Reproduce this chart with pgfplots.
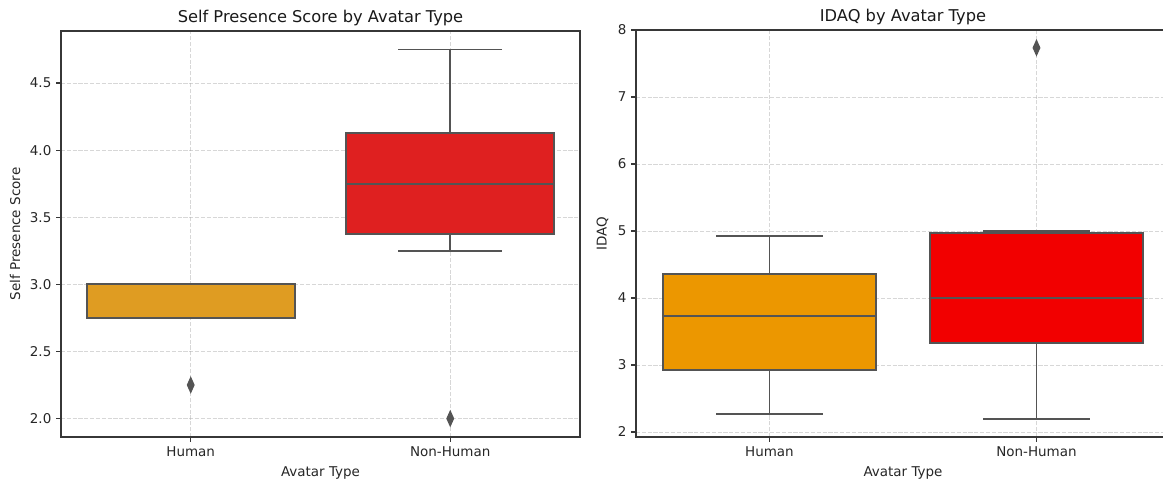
\documentclass[border=0pt]{standalone}
\usepackage{fontspec}
\setmainfont{DejaVu Sans}
\usepackage{pgfplots}
\pgfplotsset{compat=1.18}
\usepgfplotslibrary{statistics}
\definecolor{lorange}{RGB}{223,156,34}
\definecolor{lred}{RGB}{223,32,32}
\definecolor{rorange}{RGB}{236,151,0}
\definecolor{rred}{RGB}{242,0,0}
\definecolor{boxline}{RGB}{84,84,84}
\definecolor{spine}{RGB}{55,55,55}
\pgfplotsset{
  myax/.style={
    scale only axis,
    anchor=south west,
    xmin=-0.5, xmax=1.5,
    xtick={0,1}, xticklabels={Human,Non-Human},
    xtick pos=lower, ytick pos=left,
    tick align=outside,
    major tick length=3.4pt,
    tick style={spine, line width=0.8pt},
    axis line style={spine, line width=1pt},
    xmajorgrids, ymajorgrids,
    major grid style={dash pattern=on 2.9pt off 1.3pt, color=gray!70, opacity=0.45, line width=0.6pt},
    ticklabel style={font=\fontsize{9.7}{11}\selectfont, text=black!85},
    label style={font=\fontsize{9.7}{11}\selectfont, text=black!85},
    title style={font=\fontsize{11.7}{13}\selectfont, text=black!90, yshift=-6pt},
    xlabel={Avatar Type},
    boxplot/draw direction=y,
    boxplot/box extend=0.8,
    boxplot/whisker extend=0.4,
  },
  bx/.style={draw=boxline, fill=#1, line width=1.4pt, solid, mark=diamond*, mark size=3.7pt,
    mark options={fill=boxline, draw=boxline, xscale=0.75, yscale=1.25},
    boxplot/every box/.style={line width=1.4pt},
    boxplot/every whisker/.style={line width=1.4pt},
    boxplot/every median/.style={line width=1.4pt}},
}
\begin{document}
\begin{tikzpicture}
\path[use as bounding box] (0,0) rectangle (837.36pt,345.6pt);
\begin{axis}[myax,
  at={(43.9pt,30.96pt)}, width=373.7pt, height=292.3pt,
  ymin=1.8625, ymax=4.8875,
  ytick={2,2.5,3,3.5,4,4.5}, yticklabels={2.0,2.5,3.0,3.5,4.0,4.5},
  ylabel={Self Presence Score},
  title={Self Presence Score by Avatar Type}]
\addplot[bx=lorange, boxplot prepared={lower whisker=2.75, lower quartile=2.75, median=3.0, upper quartile=3.0, upper whisker=3.0, draw position=0}] table[row sep=\\, y index=0] {2.25\\};
\addplot[bx=lred, boxplot prepared={lower whisker=3.25, lower quartile=3.375, median=3.75, upper quartile=4.125, upper whisker=4.75, draw position=1}] table[row sep=\\, y index=0] {2.0\\};
\end{axis}
\begin{axis}[myax,
  at={(457.9pt,30.96pt)}, width=384.5pt, height=293pt,
  ymin=1.925, ymax=8.0,
  ytick={2,3,4,5,6,7,8}, yticklabels={2,3,4,5,6,7,8},
  ylabel={IDAQ},
  title={IDAQ by Avatar Type}]
\addplot[bx=rorange, boxplot prepared={lower whisker=2.27, lower quartile=2.925, median=3.725, upper quartile=4.36, upper whisker=4.925, draw position=0}] coordinates {};
\addplot[bx=rred, boxplot prepared={lower whisker=2.2, lower quartile=3.33, median=4.0, upper quartile=4.965, upper whisker=5.0, draw position=1}] table[row sep=\\, y index=0] {7.735\\};
\end{axis}
\end{tikzpicture}
\end{document}
